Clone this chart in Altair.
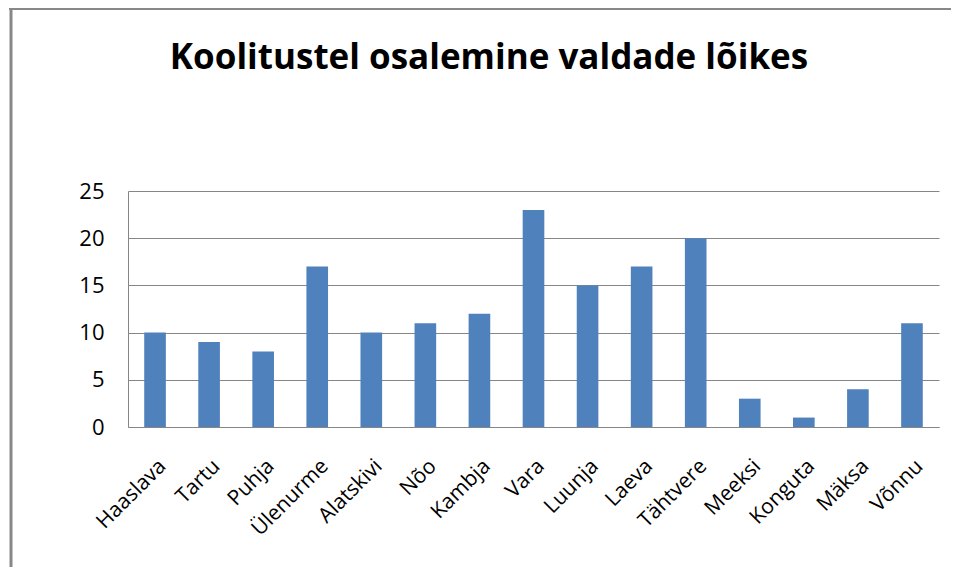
import altair as alt
import pandas as pd

categories = ["Haaslava", "Tartu", "Puhja", "Ülenurme", "Alatskivi", "Nõo", "Kambja",
              "Vara", "Luunja", "Laeva", "Tähtvere", "Meeksi", "Konguta", "Mäksa", "Võnnu"]
values = [10, 9, 8, 17, 10, 11, 12, 23, 15, 17, 20, 3, 1, 4, 11]
y_ticks = [0, 5, 10, 15, 20, 25]
title_text = "Koolitustel osalemine valdade lõikes"

df = pd.DataFrame({"vald": categories, "osalejad": values})
one = pd.DataFrame({"k": [0]})

W, H = 811, 236
PL, PT, PR, PB = 120, 183, 12, 140
GRAY = "#868686"

bars = alt.Chart(df).mark_bar(color="#4F81BD").encode(
    x=alt.X("vald:N", sort=categories,
            scale=alt.Scale(paddingInner=0.6, paddingOuter=0.3),
            axis=alt.Axis(title=None, labelAngle=-45, labelFontSize=21,
                          labelFont="Open Sans", labelColor="black", ticks=False,
                          domainColor=GRAY, labelPadding=28)),
    y=alt.Y("osalejad:Q", scale=alt.Scale(domain=[0, 25]),
            axis=alt.Axis(title=None, values=y_ticks, ticks=False, domainColor=GRAY,
                          gridColor=GRAY, gridOpacity=1, labelFontSize=22, labelPadding=24,
                          labelColor="black", labelFont="Open Sans")),
)

title = alt.Chart(one).mark_text(
    text=title_text, font="Open Sans", fontSize=35,
    fontWeight="bold", align="center", baseline="alphabetic", color="black"
).encode(x=alt.value(361), y=alt.value(-122))

border_left = alt.Chart(one).mark_rule(color="#888888", strokeWidth=3).encode(
    x=alt.value(-117), y=alt.value(-PT), y2=alt.value(H + PB))
border_top = alt.Chart(one).mark_rule(color="#888888", strokeWidth=2).encode(
    y=alt.value(-PT + 1), x=alt.value(-119), x2=alt.value(W + PR))

chart = alt.layer(bars, title, border_left, border_top).properties(
    width=W, height=H,
    autosize=alt.AutoSizeParams(type="none"),
    padding={"left": PL, "top": PT, "right": PR, "bottom": PB},
).configure_view(stroke=None)

chart.save("out.html", embed_options={"renderer": "svg", "actions": False})
